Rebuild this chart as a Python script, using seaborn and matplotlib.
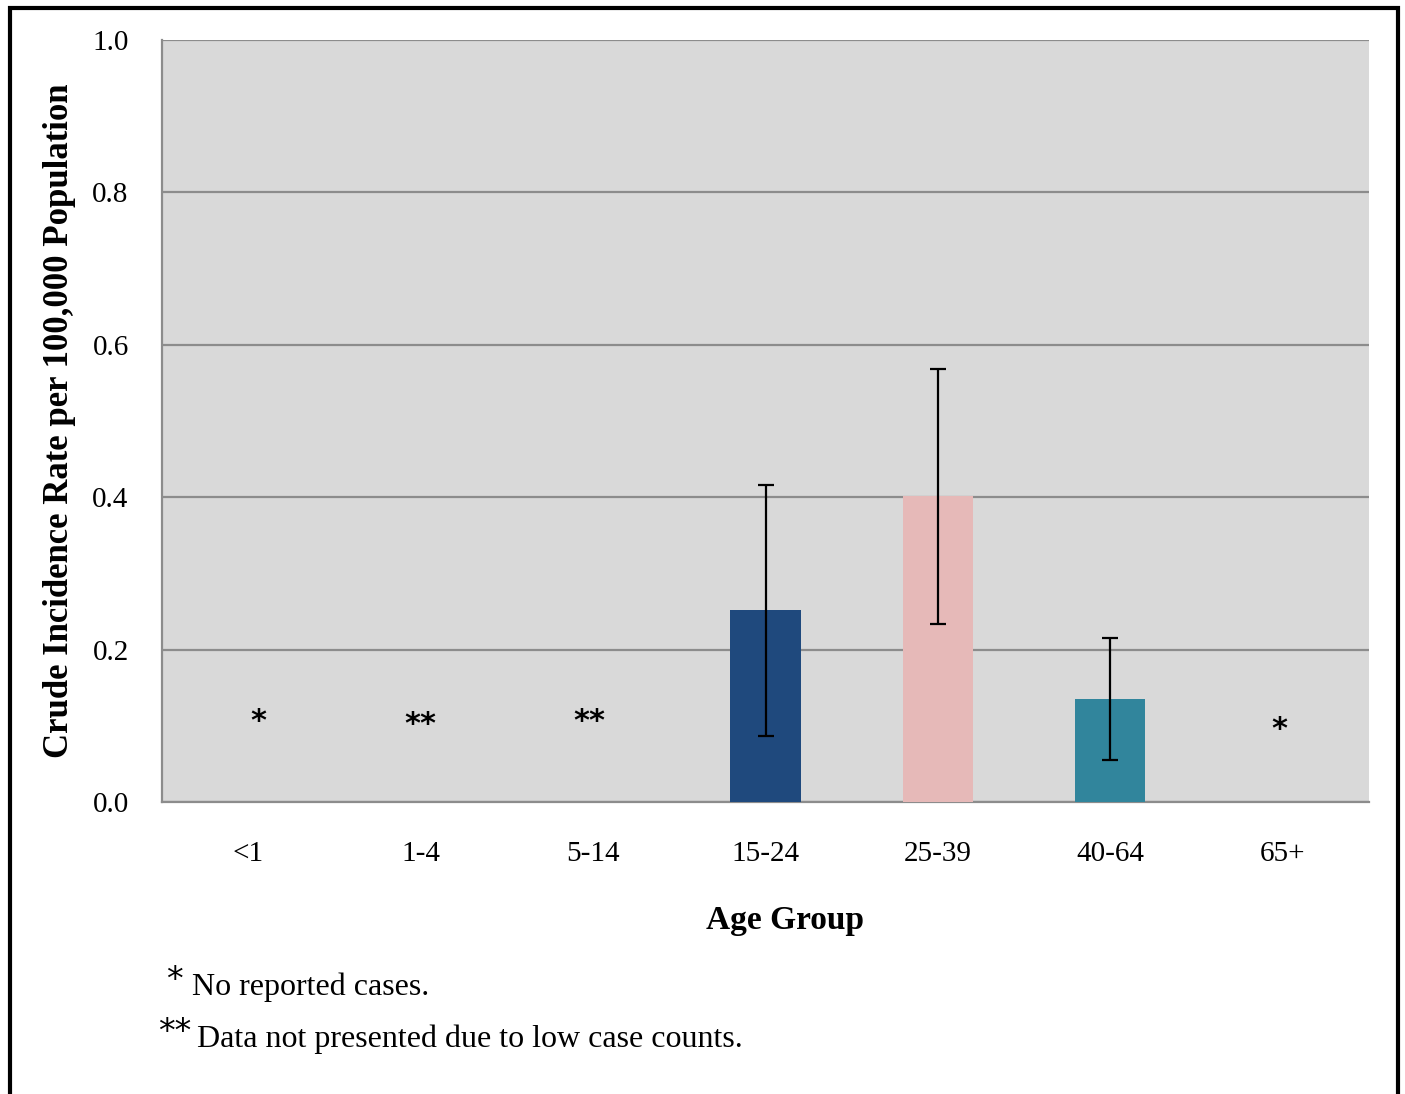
import numpy as np
import pandas as pd
import matplotlib
matplotlib.use('Agg')
import matplotlib.pyplot as plt
import seaborn as sns
from matplotlib.patches import Rectangle

# ---------------------------------------------------
# Datos
# ---------------------------------------------------
GROUPS = ['<1', '1-4', '5-14', '15-24', '25-39', '40-64', '65+']
RATES = [0.0, 0.0, 0.0, 0.252, 0.401, 0.135, 0.0]
CI_LOW = [np.nan, np.nan, np.nan, 0.087, 0.234, 0.055, np.nan]
CI_HIGH = [np.nan, np.nan, np.nan, 0.416, 0.568, 0.215, np.nan]
FLAGS = ['*', '**', '**', '', '', '', '*']
FLAG_Y = [0.112, 0.108, 0.112, 0, 0, 0, 0.101]
COLORS = ['#D9D9D9', '#D9D9D9', '#D9D9D9', '#1F497D', '#E6B9B8', '#31859C', '#D9D9D9']
Y_TICKS = [0.0, 0.2, 0.4, 0.6, 0.8, 1.0]
NOTES = [('*', 'No reported cases.'), ('**', 'Data not presented due to low case counts.')]
# ---------------------------------------------------

sns.set_style('white')
plt.rcParams['font.family'] = ['Liberation Serif', 'DejaVu Serif']
plt.rcParams['text.color'] = 'black'
plt.rcParams['xtick.labelcolor'] = 'black'
plt.rcParams['ytick.labelcolor'] = 'black'
plt.rcParams['axes.labelcolor'] = 'black'

df = pd.DataFrame({'group': GROUPS, 'rate': RATES})

fig = plt.figure(figsize=(14.05, 10.94), dpi=100)
ax = fig.add_axes([162 / 1405, 1 - 802 / 1094, (1369 - 162) / 1405, (802 - 40) / 1094])
ax.set_facecolor('#D9D9D9')

sns.barplot(data=df, x='group', y='rate', hue='group', palette=COLORS,
            width=0.406, saturation=1, linewidth=0, edgecolor='none',
            legend=False, ax=ax, zorder=3)

# barras de error (intervalo de confianza)
x = np.arange(len(GROUPS))
rates = np.array(RATES)
lo = rates - np.array(CI_LOW)
hi = np.array(CI_HIGH) - rates
mask = ~np.isnan(lo)
ax.errorbar(x[mask], rates[mask], yerr=[lo[mask], hi[mask]], fmt='none',
            ecolor='black', elinewidth=1.6, capsize=5.5, capthick=1.6, zorder=4)

# asteriscos
offsets = [0.06, 0.0, -0.02, 0, 0, 0, -0.02]
for i, (flag, fy) in enumerate(zip(FLAGS, FLAG_Y)):
    if flag:
        ax.text(i + offsets[i], fy - 0.006, flag, ha='center', va='center', family='DejaVu Sans',
                fontsize=22, fontweight='bold', zorder=5)

ax.set_ylim(0, 1.0)
ax.set_xlim(-0.5, len(GROUPS) - 0.5)
ax.set_yticks(Y_TICKS)
ax.set_yticklabels([f'{t:.1f}' for t in Y_TICKS], fontsize=21)
ax.yaxis.grid(True, color='#8C8C8C', linewidth=1.6, zorder=1)
ax.set_axisbelow(True)

# etiquetas en los centros, marcas en los límites
ax.set_xticks(x)
ax.set_xticklabels(GROUPS, fontsize=21)
ax.set_xticks(np.arange(len(GROUPS) + 1) - 0.5, minor=True)
ax.tick_params(axis='x', which='major', length=0, pad=28)
ax.tick_params(axis='x', which='minor', length=8, width=1.6, color='#8C8C8C', direction='out')
ax.tick_params(axis='y', length=8, width=1.6, color='#8C8C8C', direction='out', pad=16)

for side in ['top', 'right']:
    ax.spines[side].set_visible(False)
for side in ['left', 'bottom']:
    ax.spines[side].set_color('#8C8C8C')
    ax.spines[side].set_linewidth(1.6)

ax.set_xlabel('')
ax.set_ylabel('Crude Incidence Rate per 100,000 Population', fontsize=25,
              fontweight='bold', labelpad=12)
fig.text(785 / 1405, 1 - 920 / 1094, 'Age Group', ha='center', va='center',
         fontsize=24, fontweight='bold')

# notas al pie
fig.text(174 / 1405, 1 - 980 / 1094, NOTES[0][0], ha='center', va='center',
         family='DejaVu Sans', fontsize=24)
fig.text(192 / 1405, 1 - 987 / 1094, NOTES[0][1], ha='left', va='center', fontsize=23)
fig.text(175 / 1405, 1 - 1033 / 1094, NOTES[1][0], ha='center', va='center',
         family='DejaVu Sans', fontsize=24)
fig.text(197 / 1405, 1 - 1039 / 1094, NOTES[1][1], ha='left', va='center', fontsize=23)

# marco negro
fig.patches.append(Rectangle((10 / 1405, -0.02), (1398 - 10) / 1405, 1.02 - 8 / 1094,
                             transform=fig.transFigure, fill=False,
                             edgecolor='black', linewidth=3, zorder=10))

fig.savefig('out.png', dpi=100)
